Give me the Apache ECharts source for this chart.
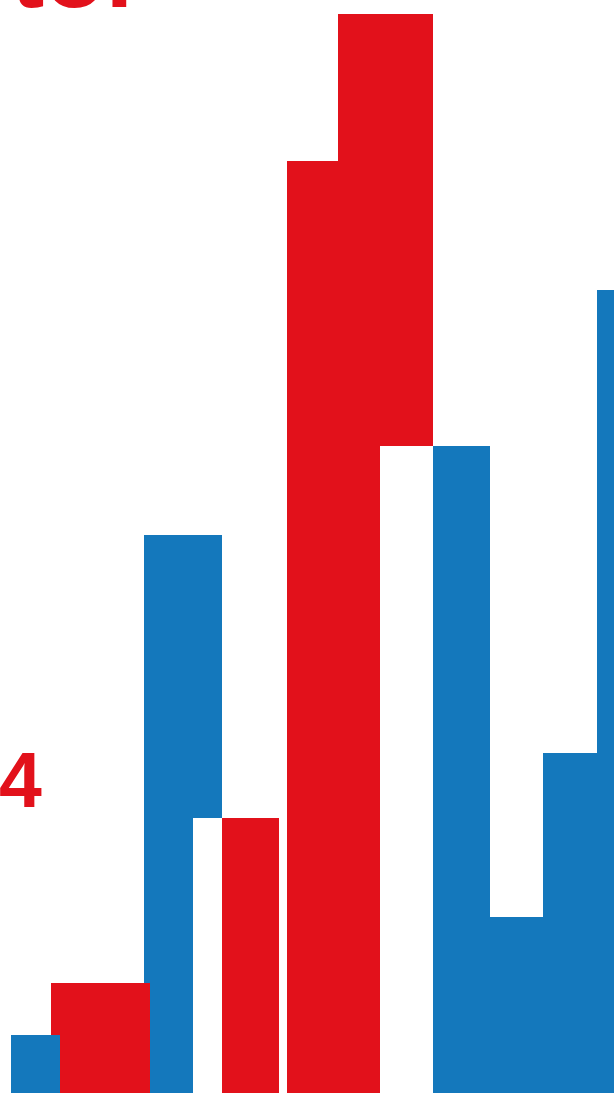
<!DOCTYPE html>
<html>
<head>
<meta charset="utf-8">
<script src="https://cdn.jsdelivr.net/npm/echarts@6/dist/echarts.min.js"></script>
<style>
html,body{margin:0;padding:0;background:#fff;}
#chart{width:614px;height:1093px;}
</style>
</head>
<body>
<div id="chart"></div>
<script>
// Rectangles listed in drawing order (back to front)
const barKind  = ['blue','red','blue','blank','red','red','red','blank','blue','blue','blue','blue'];
const barFrom  = [144, 51, 11, 193, 222, 287, 338, 380, 433, 490, 543, 597];
const barTo    = [222, 150, 60, 222, 279, 380, 433, 433, 490, 543, 597, 640];
const barValue = [55.8, 11.0, 5.8, 27.5, 27.5, 93.2, 107.9, 64.7, 64.7, 17.6, 34.0, 80.3];
const labelTop = 'tor';
const labelMid = '4';

const colors = { red: '#E2111B', blue: '#1478BC', blank: '#FFFFFF' };

const data = barValue.map((v, i) => [barFrom[i], barTo[i], v, i]);

const chart = echarts.init(document.getElementById('chart'), null, { renderer: 'canvas' });
chart.setOption({
  animation: false,
  backgroundColor: '#fff',
  grid: { left: 0, right: 0, top: 0, bottom: 0 },
  xAxis: { type: 'value', min: 0, max: 614, show: false },
  yAxis: { type: 'value', min: 0, max: 109.3, show: false },
  series: [{
    type: 'custom',
    clip: true,
    data: data,
    renderItem: function (params, api) {
      const p0 = api.coord([api.value(0), api.value(2)]);
      const p1 = api.coord([api.value(1), 0]);
      const idx = api.value(3);
      return {
        type: 'rect',
        shape: { x: p0[0], y: p0[1], width: p1[0] - p0[0], height: p1[1] - p0[1] },
        style: { fill: colors[barKind[idx]] }
      };
    }
  }],
  graphic: [
    { type: 'text', x: 11, y: -21, z: 100,
      style: { text: labelTop, font: 'bold 100px "Liberation Sans"', fill: '#E2111B', verticalAlign: 'middle' } },
    { type: 'text', x: -1, y: 786, z: 100,
      style: { text: labelMid, font: 'bold 77px "Liberation Sans"', fill: '#E2111B', verticalAlign: 'middle' } }
  ]
});
</script>
</body>
</html>
